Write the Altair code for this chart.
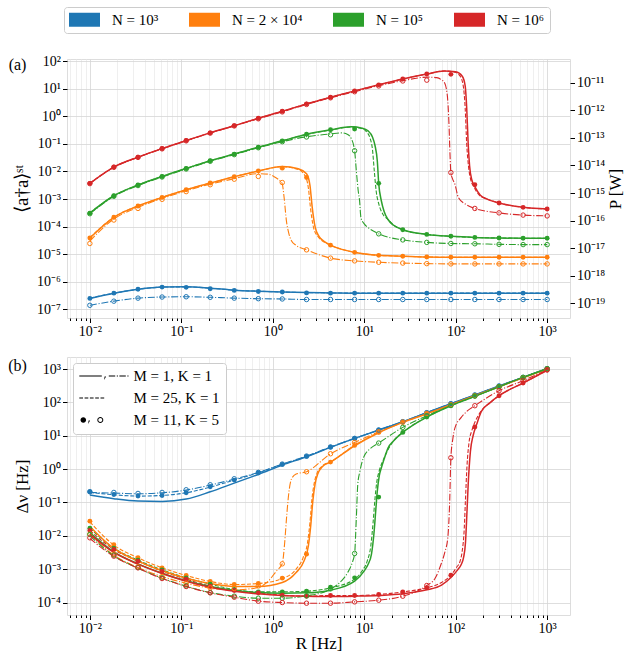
import altair as alt
import pandas as pd

FONT = "Liberation Serif"
N_LABELS = ["N = 10³", "N = 2 × 10⁴", "N = 10⁵", "N = 10⁶"]
COLORS = ["#1f77b4", "#ff7f0e", "#2ca02c", "#d62728"]
STYLE_LABELS = ["M = 1, K = 1", "M = 25, K = 1", "M = 11, K = 5"]

# R values of the markers [Hz]
R_PTS = [0.01, 0.0183, 0.0336, 0.0616, 0.113, 0.207, 0.379, 0.695, 1.27, 2.34,
         4.28, 7.85, 14.4, 26.4, 48.3, 88.6, 162, 298, 546, 1000]

# ---------------- panel (a): log10 <a+a>_st ----------------
TOP_FILLED = {
    0: [-6.60, -6.41, -6.27, -6.19, -6.20, -6.25, -6.31, -6.35, -6.37, -6.40,
        -6.41, -6.41, -6.41, -6.41, -6.41, -6.41, -6.41, -6.41, -6.41, -6.41],
    1: [-4.41, -3.66, -3.25, -2.94, -2.66, -2.42, -2.19, -1.98, -1.88, -2.22,
        -4.67, -4.93, -5.04, -5.07, -5.10, -5.11, -5.11, -5.11, -5.11, -5.11],
    2: [-3.51, -2.88, -2.49, -2.18, -1.89, -1.61, -1.37, -1.12, -0.89, -0.65,
        -0.49, -0.46, -2.43, -4.11, -4.28, -4.35, -4.39, -4.41, -4.42, -4.42],
    3: [-2.43, -1.84, -1.48, -1.17, -0.88, -0.60, -0.34, -0.07, 0.18, 0.45,
        0.69, 0.92, 1.14, 1.35, 1.53, 1.52, -2.48, -3.14, -3.30, -3.36],
}
TOP_OPEN = {
    0: [-6.85, -6.70, -6.59, -6.55, -6.54, -6.56, -6.59, -6.61, -6.62, -6.64,
        -6.64, -6.64, -6.64, -6.64, -6.64, -6.64, -6.64, -6.64, -6.64, -6.64],
    1: [-4.61, -3.76, -3.34, -3.01, -2.73, -2.48, -2.28, -2.18, -2.40, -4.84,
        -5.14, -5.24, -5.29, -5.32, -5.34, -5.35, -5.35, -5.35, -5.35, -5.35],
    2: [-3.53, -2.90, -2.51, -2.20, -1.91, -1.63, -1.39, -1.14, -0.92, -0.75,
        -0.67, -1.25, -4.26, -4.48, -4.57, -4.61, -4.62, -4.64, -4.65, -4.65],
    3: [-2.44, -1.85, -1.49, -1.18, -0.89, -0.61, -0.35, -0.09, 0.16, 0.43,
        0.67, 0.89, 1.10, 1.28, 1.31, -2.04, -3.34, -3.50, -3.58, -3.61],
}
TOP_SOLID = {
    0: (R_PTS, [-6.60, -6.41, -6.27, -6.19, -6.18, -6.23, -6.30, -6.34, -6.37, -6.39,
                -6.40, -6.41, -6.41, -6.41, -6.41, -6.41, -6.41, -6.41, -6.41, -6.41]),
    1: (R_PTS[:9] + [1.9, 2.34, 2.55, 2.7, 2.9, 3.2, 3.6] + R_PTS[10:],
        [-4.41, -3.66, -3.25, -2.94, -2.66, -2.42, -2.19, -1.98, -1.82,
         -1.90, -2.08, -2.50, -3.30, -4.00, -4.35, -4.52,
         -4.67, -4.93, -5.04, -5.07, -5.10, -5.11, -5.11, -5.11, -5.11, -5.11]),
    2: (R_PTS[:11] + [7.2, 9.5, 11, 12.3, 13.1, 13.9, 14.4, 15.4, 16.5, 18.2, 21] + R_PTS[13:],
        [-3.51, -2.88, -2.49, -2.18, -1.89, -1.61, -1.37, -1.12, -0.89, -0.65, -0.49,
         -0.38, -0.43, -0.53, -0.75, -1.05, -1.62, -2.43, -3.07, -3.45, -3.74, -3.95,
         -4.11, -4.28, -4.35, -4.39, -4.41, -4.42, -4.42]),
    3: (R_PTS[:15] + [75, 100, 118, 127, 132, 137, 142, 150, 162, 185, 220] + R_PTS[17:],
        [-2.43, -1.84, -1.48, -1.17, -0.88, -0.60, -0.34, -0.07, 0.18, 0.45, 0.69, 0.92, 1.14, 1.35, 1.53,
         1.64, 1.61, 1.45, 1.10, 0.30, -1.00, -1.80, -2.30, -2.55, -2.85, -3.00,
         -3.14, -3.30, -3.36]),
}
TOP_DASHED = {
    0: (R_PTS, [-6.59, -6.41, -6.27, -6.19, -6.18, -6.23, -6.30, -6.34, -6.37, -6.39,
                -6.40, -6.41, -6.41, -6.41, -6.41, -6.41, -6.41, -6.41, -6.41, -6.41]),
    1: (R_PTS[:9] + [1.9, 2.25, 2.45, 2.6, 2.8, 3.1, 3.5] + R_PTS[10:],
        [-4.40, -3.66, -3.25, -2.94, -2.66, -2.42, -2.19, -1.98, -1.83,
         -1.93, -2.15, -2.60, -3.40, -4.05, -4.35, -4.52,
         -4.67, -4.93, -5.04, -5.07, -5.10, -5.11, -5.11, -5.11, -5.11, -5.11]),
    2: (R_PTS[:11] + [7.2, 9.3, 10.5, 11.6, 12.3, 12.9, 13.5, 14.5, 16, 18.2, 21] + R_PTS[13:],
        [-3.50, -2.88, -2.49, -2.18, -1.89, -1.61, -1.37, -1.12, -0.89, -0.66, -0.50,
         -0.39, -0.44, -0.55, -0.80, -1.20, -2.00, -2.70, -3.20, -3.55, -3.74, -3.95,
         -4.11, -4.28, -4.35, -4.39, -4.41, -4.42, -4.42]),
    3: (R_PTS[:15] + [75, 98, 112, 121, 127, 132, 138, 146, 158, 180, 220] + R_PTS[17:],
        [-2.43, -1.84, -1.48, -1.17, -0.88, -0.60, -0.34, -0.07, 0.18, 0.45, 0.69, 0.92, 1.14, 1.35, 1.53,
         1.64, 1.60, 1.45, 1.10, 0.30, -1.00, -1.80, -2.30, -2.55, -2.85, -3.00,
         -3.14, -3.30, -3.36]),
}
TOP_DASHDOT = {
    0: (R_PTS, [-6.85, -6.70, -6.59, -6.55, -6.54, -6.56, -6.59, -6.61, -6.62, -6.64,
                -6.64, -6.64, -6.64, -6.64, -6.64, -6.64, -6.64, -6.64, -6.64, -6.64]),
    1: (R_PTS[:8] + [0.9, 1.05, 1.19, 1.27, 1.33, 1.41, 1.5, 1.6, 1.8] + R_PTS[9:],
        [-4.52, -3.72, -3.30, -2.98, -2.70, -2.46, -2.26, -2.08,
         -2.10, -2.20, -2.33, -2.45, -2.94, -3.79, -4.25, -4.51, -4.68,
         -4.84, -5.14, -5.24, -5.29, -5.32, -5.34, -5.35, -5.35, -5.35, -5.35, -5.35]),
    2: (R_PTS[:11] + [5.6, 6.6, 7.2, 7.85, 8.2, 8.6, 8.9, 9.2, 10, 11] + R_PTS[12:],
        [-3.53, -2.90, -2.51, -2.20, -1.91, -1.63, -1.39, -1.14, -0.92, -0.74, -0.64,
         -0.60, -0.66, -0.80, -1.25, -1.98, -2.71, -3.07, -3.67, -3.90, -4.03,
         -4.26, -4.48, -4.57, -4.61, -4.62, -4.64, -4.65, -4.65]),
    3: (R_PTS[:14] + [50, 62, 70, 76, 79, 82, 84.5, 86.5, 88.6, 92, 98, 107, 130] + R_PTS[16:],
        [-2.44, -1.85, -1.49, -1.18, -0.89, -0.61, -0.35, -0.09, 0.16, 0.43, 0.67, 0.89, 1.11, 1.29,
         1.42, 1.40, 1.32, 1.20, 1.00, 0.55, -0.30, -1.30, -2.04, -2.25, -2.46, -2.94, -3.20,
         -3.34, -3.50, -3.58, -3.61]),
}

# ---------------- panel (b): log10 Delta nu [Hz] ----------------
BOT_FILLED = {
    0: [-0.68, -0.76, -0.81, -0.79, -0.71, -0.53, -0.33, -0.11, 0.14, 0.38,
        0.66, 0.92, 1.17, 1.42, 1.69, 1.96, 2.22, 2.49, 2.75, 3.01],
    1: [-1.56, -2.27, -2.66, -2.96, -3.19, -3.37, -3.46, -3.43, -3.27, -2.55,
        0.21, 0.71, 1.10, 1.40, 1.66, 1.93, 2.20, 2.47, 2.74, 3.00],
    2: [-1.77, -2.37, -2.73, -3.02, -3.26, -3.45, -3.61, -3.68, -3.68, -3.66,
        -3.54, -3.26, -0.84, 1.10, 1.56, 1.90, 2.18, 2.47, 2.75, 3.01],
    3: [-1.84, -2.41, -2.76, -3.06, -3.30, -3.51, -3.64, -3.71, -3.78, -3.81,
        -3.79, -3.79, -3.76, -3.68, -3.56, -3.18, 1.26, 2.20, 2.58, 2.96],
}
BOT_OPEN = {
    0: [-0.68, -0.70, -0.73, -0.70, -0.62, -0.47, -0.29, -0.10, 0.15, 0.39,
        0.66, 0.92, 1.17, 1.42, 1.69, 1.96, 2.22, 2.49, 2.75, 3.01],
    1: [-1.95, -2.55, -2.93, -3.22, -3.42, -3.56, -3.58, -3.50, -2.84, -0.08,
        0.46, 0.80, 1.12, 1.41, 1.67, 1.93, 2.20, 2.47, 2.74, 3.00],
    2: [-1.96, -2.58, -2.95, -3.26, -3.50, -3.70, -3.81, -3.87, -3.87, -3.80,
        -3.59, -2.53, 0.78, 1.25, 1.60, 1.91, 2.19, 2.47, 2.75, 3.01],
    3: [-2.06, -2.61, -2.96, -3.28, -3.52, -3.71, -3.84, -3.96, -4.00, -4.02,
        -4.02, -3.98, -3.93, -3.81, -3.49, 0.34, 1.90, 2.35, 2.65, 2.98],
}
BOT_SOLID = {
    0: (R_PTS, [-0.78, -0.89, -0.96, -0.97, -0.90, -0.68, -0.42, -0.16, 0.12, 0.37,
                0.65, 0.92, 1.17, 1.42, 1.69, 1.96, 2.22, 2.49, 2.75, 3.01]),
    1: (R_PTS[:9] + [1.8, 2.2, 2.45, 2.6, 2.74, 2.9, 3.1, 3.5] + R_PTS[10:],
        [-1.72, -2.38, -2.76, -3.05, -3.27, -3.43, -3.52, -3.52, -3.40,
         -3.10, -2.75, -2.30, -1.70, -0.96, -0.45, -0.15, 0.08,
         0.21, 0.70, 1.09, 1.40, 1.66, 1.93, 2.20, 2.47, 2.74, 3.00]),
    2: (R_PTS[:12] + [10, 11, 12, 12.8, 13.4, 13.9, 14.6, 15.4, 16.5, 18.2, 21] + R_PTS[13:],
        [-1.90, -2.48, -2.84, -3.12, -3.35, -3.52, -3.64, -3.70, -3.72, -3.71, -3.63, -3.36,
         -3.05, -2.86, -2.55, -1.90, -1.20, -0.66, -0.20, 0.04, 0.30, 0.63, 0.85,
         1.10, 1.56, 1.90, 2.18, 2.47, 2.75, 3.01]),
    3: (R_PTS[:15] + [70, 88.6, 105, 115, 122, 128, 132, 137, 145, 155, 170, 191, 240] + R_PTS[17:],
        [-1.95, -2.50, -2.85, -3.13, -3.36, -3.54, -3.66, -3.74, -3.79, -3.81, -3.82, -3.81, -3.79, -3.74, -3.62,
         -3.48, -3.25, -3.02, -2.86, -2.65, -2.20, -1.46, -0.46, 0.54, 1.00, 1.35, 1.73, 2.00,
         2.20, 2.58, 2.96]),
}
BOT_DASHED = {
    0: (R_PTS, [-0.70, -0.77, -0.81, -0.79, -0.71, -0.54, -0.33, -0.11, 0.14, 0.38,
                0.66, 0.92, 1.17, 1.42, 1.69, 1.96, 2.22, 2.49, 2.75, 3.01]),
    1: (R_PTS[:9] + [1.8, 2.15, 2.4, 2.55, 2.68, 2.85, 3.05, 3.5] + R_PTS[10:],
        [-1.58, -2.28, -2.66, -2.96, -3.19, -3.37, -3.46, -3.43, -3.28,
         -3.00, -2.65, -2.20, -1.60, -0.90, -0.40, -0.12, 0.10,
         0.22, 0.71, 1.10, 1.40, 1.66, 1.93, 2.20, 2.47, 2.74, 3.00]),
    2: (R_PTS[:12] + [9.5, 10.8, 11.8, 12.5, 13.1, 13.7, 14.6, 16, 18.2, 21] + R_PTS[13:],
        [-1.77, -2.37, -2.73, -3.02, -3.26, -3.45, -3.61, -3.68, -3.68, -3.66, -3.56, -3.30,
         -3.05, -2.75, -2.30, -1.60, -0.90, -0.40, -0.05, 0.25, 0.58, 0.85,
         1.10, 1.56, 1.90, 2.18, 2.47, 2.75, 3.01]),
    3: (R_PTS[:15] + [70, 88.6, 102, 112, 118, 124, 128, 133, 140, 150, 165, 191, 240] + R_PTS[17:],
        [-1.84, -2.41, -2.76, -3.06, -3.30, -3.51, -3.64, -3.71, -3.78, -3.81, -3.79, -3.79, -3.76, -3.68, -3.56,
         -3.40, -3.18, -2.95, -2.75, -2.45, -1.80, -0.90, 0.10, 0.80, 1.15, 1.45, 1.75, 2.00,
         2.20, 2.58, 2.96]),
}
BOT_DASHDOT = {
    0: (R_PTS, [-0.70, -0.72, -0.74, -0.71, -0.63, -0.48, -0.30, -0.10, 0.15, 0.39,
                0.66, 0.92, 1.17, 1.42, 1.69, 1.96, 2.22, 2.49, 2.75, 3.01]),
    1: (R_PTS[:8] + [0.9, 1.1, 1.27, 1.35, 1.42, 1.5, 1.6, 1.8] + R_PTS[9:],
        [-1.95, -2.58, -2.95, -3.22, -3.42, -3.57, -3.62, -3.55,
         -3.35, -3.05, -2.84, -2.20, -1.40, -0.70, -0.30, -0.15,
         -0.08, 0.46, 0.80, 1.12, 1.41, 1.67, 1.93, 2.20, 2.47, 2.74, 3.00]),
    2: (R_PTS[:11] + [5.6, 6.6, 7.4, 7.85, 8.2, 8.5, 9.0, 9.8, 11.5] + R_PTS[12:],
        [-2.00, -2.60, -2.97, -3.27, -3.51, -3.70, -3.81, -3.87, -3.87, -3.80, -3.60,
         -3.36, -3.10, -2.80, -2.53, -1.46, -0.46, -0.05, 0.34, 0.60,
         0.78, 1.25, 1.60, 1.91, 2.19, 2.47, 2.75, 3.01]),
    3: (R_PTS[:15] + [60, 69, 76, 82, 86, 88.6, 93, 98, 115, 135] + R_PTS[16:],
        [-2.08, -2.62, -2.97, -3.28, -3.52, -3.71, -3.84, -3.96, -4.00, -4.02, -4.02, -3.98, -3.93, -3.81, -3.49,
         -3.26, -2.86, -2.50, -2.06, -0.96, 0.34, 0.90, 1.23, 1.55, 1.75,
         1.90, 2.35, 2.65, 2.98]),
}

# tick positions
X_TICKS = [k * 10.0 ** e for e in range(-3, 4) for k in range(1, 10)
           if 10 ** -2.25 <= k * 10.0 ** e <= 10 ** 3.25]
Y_TICKS_TOP = [10.0 ** e for e in range(-7, 3)]
P_TICKS = [10.0 ** e for e in range(-19, -10)]
Y_TICKS_BOT = [10.0 ** e for e in range(-4, 4)]


def hbar(x0, x1):
    return f"M{x0},-0.12H{x1}V0.12H{x0}Z"


# legend symbols as filled shapes (5 px per unit)
COMMA = "M{0},0.12L{1},0.12L{2},0.8Z"
LEG_PATHS = [
    hbar(-1.34, 3.16) + COMMA.format(3.72, 4.02, 3.62)
    + hbar(4.56, 5.84) + hbar(6.16, 6.38) + hbar(6.68, 7.96) + hbar(8.28, 8.5),
    hbar(-1.34, -0.6) + hbar(-0.28, 0.46) + hbar(0.78, 1.52) + hbar(1.84, 2.58) + hbar(2.9, 3.64),
    "M-1.1,0A0.56,0.56 0 1,0 0.02,0A0.56,0.56 0 1,0 -1.1,0Z"
    + COMMA.format(0.52, 0.82, 0.42)
    + "M2.26,0A0.6,0.6 0 1,0 3.46,0A0.6,0.6 0 1,0 2.26,0Z"
    + "M3.26,0A0.4,0.4 0 1,1 2.46,0A0.4,0.4 0 1,1 3.26,0Z",
]
RECT_PATH = "M-1.5,-1.4H4.7V1.4H-1.5Z"


def line_frame(series):
    rows = []
    for i, (rs, es) in series.items():
        assert len(rs) == len(es), (i, len(rs), len(es))
        for r, e in zip(rs, es):
            rows.append({"N": N_LABELS[i], "R": r, "v": 10 ** e})
    return pd.DataFrame(rows)


def marker_frame(series):
    rows = []
    for i, es in series.items():
        assert len(es) == len(R_PTS), (i, len(es))
        for r, e in zip(R_PTS, es):
            rows.append({"N": N_LABELS[i], "R": r, "v": 10 ** e})
    return pd.DataFrame(rows)


E = "round(log(datum.value)/LN10)"
A = f"abs({E})"
SUP = "'⁰¹²³⁴⁵⁶⁷⁸⁹'"
POW_LABEL = (f"'10' + ({E} < 0 ? '⁻' : '') + ({A} >= 10 ? substring({SUP}, floor({A}/10), floor({A}/10) + 1) : '')"
             f" + substring({SUP}, {A} % 10, {A} % 10 + 1)")
MAJOR = f"abs(log(datum.value)/LN10 - {E}) < 0.01"

AX = dict(labelFont=FONT, labelFontSize=14, labelColor="black", titleFont=FONT,
          titleFontWeight="normal", titleColor="black",
          tickColor="black", domain=False, labelPadding=2, labelOverlap=False,
          labelFlush=False)
GRID_MAJOR = "#d6d6d6"
GRID_MINOR = "#ebebeb"

XS = alt.Scale(type="log", domain=[10 ** -2.25, 10 ** 3.25], nice=False)
YS_TOP = alt.Scale(type="log", domain=[10 ** -7.31, 10 ** 2.076], nice=False)
YS_P = alt.Scale(type="log", domain=[10 ** -19.527, 10 ** -10.141], nice=False)
YS_BOT = alt.Scale(type="log", domain=[10 ** -4.374, 10 ** 3.36], nice=False)
CS = alt.Scale(domain=N_LABELS, range=COLORS)


def x_axis(title):
    return alt.Axis(values=X_TICKS, labelExpr=f"{MAJOR} ? {POW_LABEL} : ''", title=title,
                    grid=True,
                    gridColor={"condition": {"test": MAJOR, "value": GRID_MAJOR}, "value": GRID_MINOR},
                    gridWidth=0.8,
                    tickSize={"condition": {"test": MAJOR, "value": 4.5}, "value": 2.5},
                    titlePadding=0, titleFontSize=17, **AX)


def y_axis(values, title, size):
    return alt.Axis(values=values, labelExpr=POW_LABEL, title=title, grid=True,
                    gridColor=GRID_MAJOR, gridWidth=0.8, tickSize=4.5, titlePadding=5,
                    titleFontSize=size, **AX)


def panel(solid, dashed, dashdot, filled, opened, xaxis, yscale, yaxis):
    x = alt.X("R:Q", scale=XS, axis=xaxis)
    y = alt.Y("v:Q", scale=yscale, axis=yaxis)
    c = alt.Color("N:N", scale=CS, legend=None)
    l_dash = alt.Chart(line_frame(dashed)).mark_line(
        strokeWidth=1.1, strokeDash=[4, 1.8], interpolate="monotone").encode(x=x, y=y, color=c)
    l_dd = alt.Chart(line_frame(dashdot)).mark_line(
        strokeWidth=1.1, strokeDash=[7, 1.8, 1.1, 1.8], interpolate="monotone").encode(x=x, y=y, color=c)
    l_solid = alt.Chart(line_frame(solid)).mark_line(
        strokeWidth=1.5, interpolate="monotone").encode(x=x, y=y, color=c)
    m_fill = alt.Chart(marker_frame(filled)).mark_circle(size=24, opacity=1).encode(x=x, y=y, color=c)
    m_open = alt.Chart(marker_frame(opened)).mark_point(
        filled=False, size=20, strokeWidth=1, opacity=1).encode(x=x, y=y, color=c)
    return [l_dash, l_dd, l_solid, m_fill, m_open]


def tag(text, y):
    return alt.Chart(pd.DataFrame({"t": [text]})).mark_text(
        font=FONT, fontSize=16, align="center", baseline="middle", color="black"
    ).encode(text="t:N", x=alt.value(-49.5), y=alt.value(y))


fill_leg = alt.Chart(pd.DataFrame({"N": N_LABELS})).transform_filter("false").mark_point(
    filled=True).encode(
    fill=alt.Fill("N:N", scale=alt.Scale(domain=N_LABELS, range=COLORS),
                  legend=alt.Legend(title=None, orient="none", legendX=-3, legendY=-52,
                                    direction="horizontal", columns=4,
                                    symbolType=RECT_PATH, symbolSize=100, symbolStrokeWidth=0,
                                    symbolOpacity=1, labelFont=FONT, labelFontSize=15,
                                    labelColor="black", labelOffset=28, columnPadding=30,
                                    padding=5, fillColor="white", strokeColor="#cccccc",
                                    cornerRadius=3, labelLimit=300)))

shape_leg = alt.Chart(pd.DataFrame({"k": STYLE_LABELS})).transform_filter("false").mark_point(
    filled=True, color="black").encode(
    shape=alt.Shape("k:N", scale=alt.Scale(domain=STYLE_LABELS, range=LEG_PATHS),
                    legend=alt.Legend(title=None, orient="top-left", offset=6,
                                      symbolSize=100, symbolFillColor="black",
                                      symbolStrokeColor="black", symbolStrokeWidth=0,
                                      symbolOpacity=1, labelFont=FONT, labelFontSize=15,
                                      labelColor="black", labelOffset=40, rowPadding=6,
                                      padding=5.5, fillColor="white", strokeColor="#cccccc",
                                      cornerRadius=3, labelLimit=300)))

p_axis = alt.Chart(pd.DataFrame({"d": [0]})).mark_point(opacity=0).encode(
    y=alt.YDatum(1e-15, type="quantitative", scale=YS_P,
                 axis=alt.Axis(orient="right", values=P_TICKS, labelExpr=POW_LABEL,
                               title="P [W]", titleAngle=270, titleBaseline="top",
                               grid=False, tickSize=4.5, titlePadding=3, titleFontSize=17, **AX)))

top_inner = alt.layer(
    *panel(TOP_SOLID, TOP_DASHED, TOP_DASHDOT, TOP_FILLED, TOP_OPEN,
           x_axis(None), YS_TOP, y_axis(Y_TICKS_TOP, "⟨a†a⟩ˢᵗ", 19)),
    fill_leg, tag("(a)", 6))
top = alt.layer(top_inner, p_axis).resolve_scale(y="independent").properties(width=503, height=259)

bottom = alt.layer(
    *panel(BOT_SOLID, BOT_DASHED, BOT_DASHDOT, BOT_FILLED, BOT_OPEN,
           x_axis("R [Hz]"), YS_BOT, y_axis(Y_TICKS_BOT, "Δν [Hz]", 17)),
    shape_leg, tag("(b)", 9)).properties(width=503, height=258)

chart = alt.vconcat(top, bottom, spacing=39, bounds="flush").resolve_scale(
    fill="independent", shape="independent").resolve_legend(
    fill="independent", shape="independent").configure_view(
    stroke="black", strokeWidth=1).configure(font=FONT).properties(
    padding={"left": 7, "top": 6, "right": 5, "bottom": 5})

chart.save("out.html", embed_options={"renderer": "svg", "actions": False})
